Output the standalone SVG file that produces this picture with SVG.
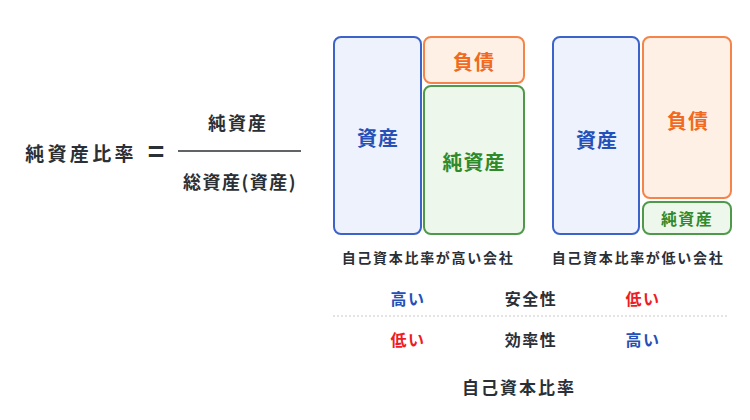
<svg xmlns="http://www.w3.org/2000/svg" width="750" height="420" viewBox="0 0 750 420">
<style>
text{font-family:"Noto Sans CJK JP","Noto Sans CJK SC",sans-serif;font-weight:bold;text-anchor:middle;dominant-baseline:central}
.dark{fill:#2b2f36}
.asset rect{fill:#eef2fc;stroke:#3b63c9;stroke-width:2}
.asset text{fill:#2450b8}
.debt rect{fill:#fff0e5;stroke:#f4844a;stroke-width:2}
.debt text{fill:#f06a22}
.net rect{fill:#eef7ec;stroke:#4f9a4a;stroke-width:2}
.net text{fill:#2f8a2c}
.blue{fill:#2450b8}
.red{fill:#ee1c25}
.bl{font-size:20px;letter-spacing:1px}
.cap{font-size:14px;letter-spacing:1.7px}
.row{font-size:16px;letter-spacing:1.5px}
</style>
<rect width="750" height="420" fill="#ffffff"/>
<g id="formula">
<text class="dark" x="81" y="152" font-size="19" letter-spacing="3.3">純資産比率</text>
<text class="dark" x="156" y="150" font-size="28" font-weight="normal">=</text>
<text class="dark" x="238" y="122" font-size="18" letter-spacing="2">純資産</text>
<line x1="178" y1="151" x2="301" y2="151" stroke="#2b2f36" stroke-width="1.6"/>
<text class="dark" x="240" y="181" font-size="18" letter-spacing="1.5">総資産(資産)</text>
</g>
<g id="high-asset" class="asset"><rect x="334" y="37" width="87" height="197" rx="7"/><text class="bl" x="378" y="137">資産</text></g>
<g id="high-debt" class="debt"><rect x="424" y="37" width="100" height="46" rx="7"/><text class="bl" x="474" y="61">負債</text></g>
<g id="high-net" class="net"><rect x="424" y="86" width="100" height="148" rx="7"/><text class="bl" x="474" y="161">純資産</text></g>
<text class="dark cap" x="428" y="257">自己資本比率が高い会社</text>
<g id="low-asset" class="asset"><rect x="553" y="37" width="86" height="197" rx="7"/><text class="bl" x="597" y="139">資産</text></g>
<g id="low-debt" class="debt"><rect x="643" y="37" width="88" height="161" rx="7"/><text class="bl" x="688" y="120">負債</text></g>
<g id="low-net" class="net"><rect x="643" y="202" width="88" height="32" rx="7"/><text x="687" y="218" font-size="16" letter-spacing="1.3">純資産</text></g>
<text class="dark cap" x="638" y="257">自己資本比率が低い会社</text>
<g id="table">
<text class="blue row" x="408" y="298">高い</text>
<text class="dark row" x="531" y="298">安全性</text>
<text class="red row" x="643" y="298">低い</text>
<line x1="333" y1="316" x2="728" y2="316" stroke="#c8c8c8" stroke-width="1" stroke-dasharray="2 2"/>
<text class="red row" x="408" y="339">低い</text>
<text class="dark row" x="531" y="339">効率性</text>
<text class="blue row" x="643" y="339">高い</text>
<text class="dark" x="519" y="386" font-size="17" letter-spacing="2">自己資本比率</text>
</g>
</svg>
